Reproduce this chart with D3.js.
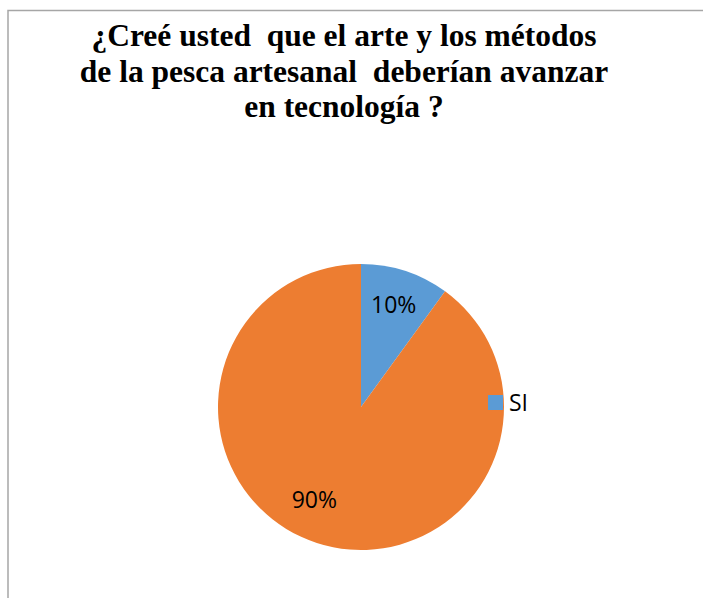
<!DOCTYPE html>
<html>
<head>
<meta charset="utf-8">
<script src="https://cdn.jsdelivr.net/npm/d3@7"></script>
<style>
  html, body { margin: 0; padding: 0; background: #fff; }
  svg { display: block; }
  .titulo { font-family: "Liberation Serif", "Times New Roman", serif; font-weight: bold; white-space: pre; }
</style>
</head>
<body>
<svg id="chart" width="703" height="598"></svg>
<script>
// datos del grafico
var categorias = ["SI", "NO"];
var valores = [10, 90];
var etiquetas = ["10%", "90%"];
var leyenda = ["SI"];
var titulo = [
  "¿Creé usted  que el arte y los métodos",
  "de la pesca artesanal  deberían avanzar",
  "en tecnología ?"
];
var colores = ["#5B9BD5", "#ED7D31"];

var svg = d3.select("#chart"),
  width = +svg.attr("width"),
  height = +svg.attr("height");

// marco
svg.append("rect")
  .attr("x", 8)
  .attr("y", 10.5)
  .attr("width", 800)
  .attr("height", 800)
  .attr("fill", "none")
  .attr("stroke", "#a6a6a6")
  .attr("stroke-width", 1.5);

// titulo
var t = svg.append("text")
  .attr("class", "titulo")
  .attr("text-anchor", "middle")
  .attr("font-size", 31.5)
  .attr("fill", "#000");
titulo.forEach(function (linea, i) {
  t.append("tspan")
    .attr("x", 344)
    .attr("y", 46 + i * 35.5)
    .text(linea);
});

// pie
var cx = 361, cy = 407, radio = 143;
var color = d3.scaleOrdinal().domain(categorias).range(colores);
var pie = d3.pie().sort(null).value(function (d) { return d.valor; });
var datos = categorias.map(function (c, i) { return { cat: c, valor: valores[i], etiqueta: etiquetas[i] }; });
var arc = d3.arc().innerRadius(0).outerRadius(radio);
var arcEtiqueta = d3.arc().innerRadius(radio * 0.74).outerRadius(radio * 0.74);

var g = svg.append("g").attr("transform", "translate(" + cx + "," + cy + ")");
g.selectAll("path")
  .data(pie(datos))
  .enter().append("path")
  .attr("d", arc)
  .attr("fill", function (d) { return color(d.data.cat); });

g.selectAll(".lbl")
  .data(pie(datos))
  .enter().append("text")
  .attr("class", "lbl")
  .attr("transform", function (d) {
    var c = arcEtiqueta.centroid(d);
    // la etiqueta grande se corre un poco hacia la izquierda como en Excel
    if (d.data.valor > 50) { c = [c[0] - 14, c[1] - 8]; } else { c = [c[0], c[1] - 2]; }
    return "translate(" + c + ")";
  })
  .attr("text-anchor", "middle")
  .attr("dy", "0.36em")
  .attr("font-family", "'Open Sans', sans-serif")
  .attr("font-size", 23)
  .attr("fill", "#000")
  .text(function (d) { return d.data.etiqueta; });

// leyenda
var ley = svg.append("g").attr("transform", "translate(488,395)");
leyenda.forEach(function (c, i) {
  ley.append("rect")
    .attr("x", 0).attr("y", i * 30)
    .attr("width", 15).attr("height", 15)
    .attr("fill", color(c));
  ley.append("text")
    .attr("x", 21).attr("y", i * 30 + 7.5)
    .attr("dy", "0.36em")
    .attr("font-family", "'Open Sans', sans-serif")
    .attr("font-size", 23)
    .attr("fill", "#000")
    .text(c);
});
</script>
</body>
</html>
